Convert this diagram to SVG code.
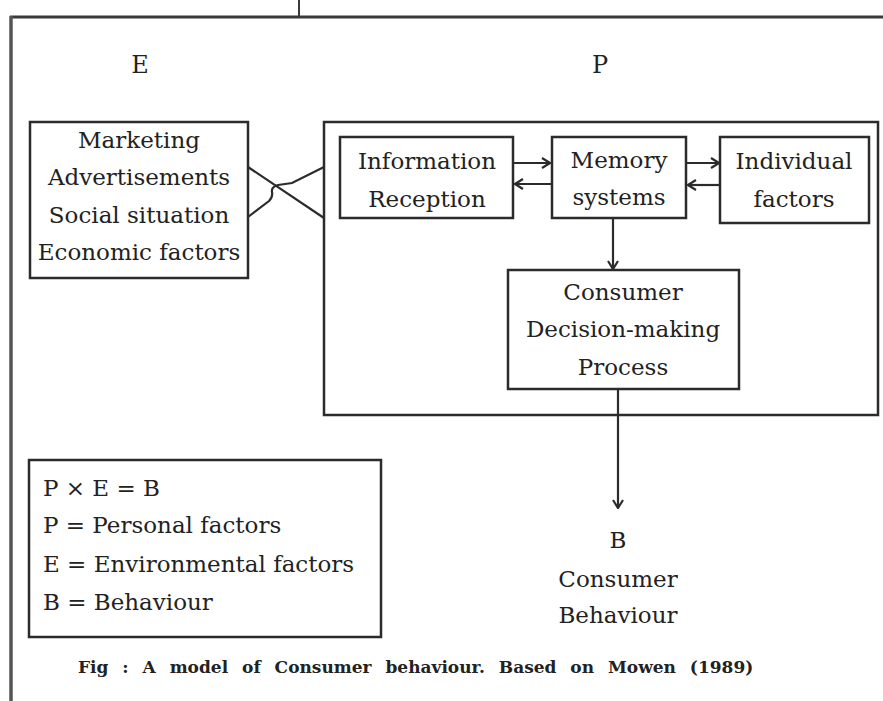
<svg xmlns="http://www.w3.org/2000/svg" width="883" height="701" viewBox="0 0 883 701">
  <style>
    .frame { fill: none; stroke: #3a3a3a; stroke-width: 3; }
    .box { fill: #ffffff; stroke: #2b2b2b; stroke-width: 2.5; }
    .line { fill: none; stroke: #2b2b2b; stroke-width: 2.2; }
    .t { font-family: "DejaVu Serif", "Liberation Serif", serif; font-size: 23px; fill: #222; text-anchor: middle; }
    .lg { font-family: "DejaVu Serif", "Liberation Serif", serif; font-size: 23px; fill: #222; }
    .cap { font-family: "DejaVu Serif", "Liberation Serif", serif; font-size: 17px; font-weight: bold; fill: #222; word-spacing: 8px; }
  </style>
  <defs>
    <marker id="arrow" viewBox="0 0 10 12" refX="9" refY="6" markerWidth="10" markerHeight="12" markerUnits="userSpaceOnUse" orient="auto">
      <path d="M1,1 L9,6 L1,11" fill="none" stroke="#2b2b2b" stroke-width="2.2"/>
    </marker>
  </defs>

  <!-- page frame -->
  <g id="frame">
    <line class="frame" x1="299" y1="0" x2="299" y2="17" style="stroke-width:2"/>
    <line class="frame" x1="10" y1="17" x2="883" y2="17"/>
    <line class="frame" x1="11" y1="16" x2="11" y2="701" style="stroke-width:3.5;stroke:#555"/>
  </g>

  <!-- section headings -->
  <g id="headings">
    <text class="t" x="140" y="73" style="font-size:24px">E</text>
    <text class="t" x="600" y="73" style="font-size:24px">P</text>
  </g>

  <!-- environmental factors -->
  <g id="environment">
    <rect class="box" x="30" y="122" width="218" height="156"/>
    <text class="t" x="139" y="148">Marketing</text>
    <text class="t" x="139" y="185">Advertisements</text>
    <text class="t" x="139" y="223">Social situation</text>
    <text class="t" x="139" y="260">Economic factors</text>
  </g>

  <!-- personal factors container -->
  <g id="personal">
    <rect class="box" x="324" y="122" width="554" height="293"/>
  </g>

  <g id="information-reception">
    <rect class="box" x="340" y="137" width="173" height="81"/>
    <text class="t" x="427" y="169">Information</text>
    <text class="t" x="427" y="207">Reception</text>
  </g>

  <g id="memory-systems">
    <rect class="box" x="552" y="137" width="134" height="81"/>
    <text class="t" x="619" y="168">Memory</text>
    <text class="t" x="619" y="205">systems</text>
  </g>

  <g id="individual-factors">
    <rect class="box" x="720" y="137" width="149" height="86"/>
    <text class="t" x="794" y="169">Individual</text>
    <text class="t" x="794" y="207">factors</text>
  </g>

  <g id="decision-process">
    <rect class="box" x="508" y="270" width="231" height="119"/>
    <text class="t" x="623" y="300">Consumer</text>
    <text class="t" x="623" y="337">Decision-making</text>
    <text class="t" x="623" y="375">Process</text>
  </g>

  <g id="behaviour">
    <text class="t" x="618" y="548">B</text>
    <text class="t" x="618" y="587">Consumer</text>
    <text class="t" x="618" y="623">Behaviour</text>
  </g>

  <!-- legend -->
  <g id="legend">
    <rect class="box" x="29" y="460" width="352" height="177"/>
    <text class="lg" x="43" y="496">P × E = B</text>
    <text class="lg" x="43" y="533">P = Personal factors</text>
    <text class="lg" x="43" y="572">E = Environmental factors</text>
    <text class="lg" x="43" y="610">B = Behaviour</text>
  </g>

  <!-- connectors -->
  <g id="connectors">
    <!-- crossing links between E and P -->
    <path class="line" d="M248,167 L324,218"/>
    <path class="line" d="M248,217 L269,201 Q273,197 272,192 Q271,187 278,185 L292,183 L324,167"/>
    <!-- information reception <-> memory -->
    <line class="line" x1="513" y1="163" x2="550" y2="163" marker-end="url(#arrow)"/>
    <line class="line" x1="552" y1="184" x2="515" y2="184" marker-end="url(#arrow)"/>
    <!-- memory <-> individual factors -->
    <line class="line" x1="686" y1="163" x2="719" y2="163" marker-end="url(#arrow)"/>
    <line class="line" x1="720" y1="185" x2="688" y2="185" marker-end="url(#arrow)"/>
    <!-- memory -> decision -->
    <line class="line" x1="613" y1="218" x2="613" y2="269" marker-end="url(#arrow)"/>
    <!-- decision -> behaviour -->
    <line class="line" x1="618" y1="389" x2="618" y2="508" marker-end="url(#arrow)"/>
  </g>

  <!-- caption -->
  <text class="cap" x="78" y="673">Fig : A model of Consumer behaviour. Based on Mowen (1989)</text>
</svg>
